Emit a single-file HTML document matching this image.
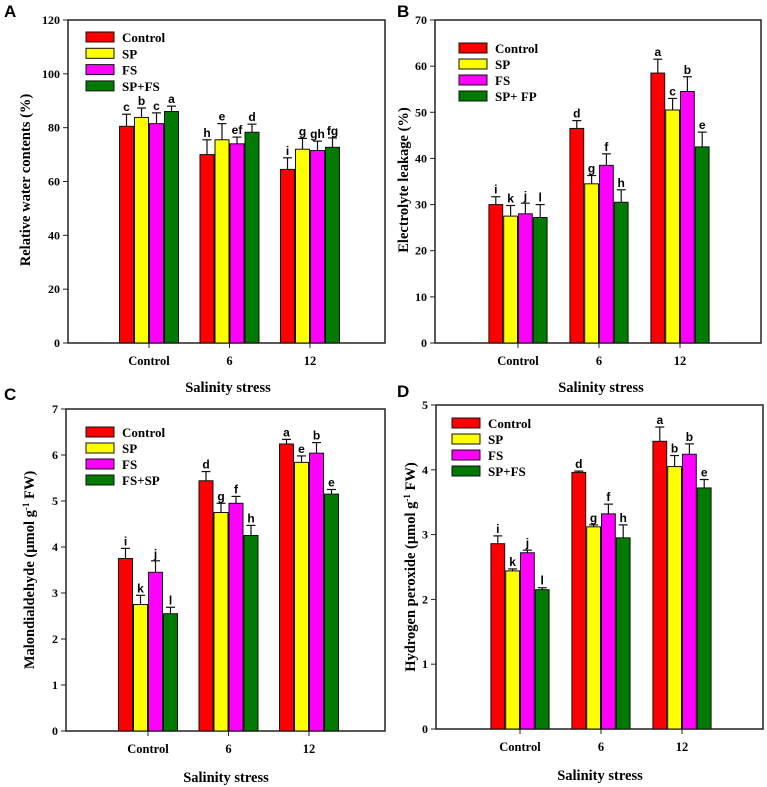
<!DOCTYPE html>
<html><head><meta charset="utf-8"><style>
body{margin:0;background:#fff}
svg{display:block}
text{font-family:"Liberation Serif",serif;font-weight:bold;fill:#000}
.let{font-family:"Liberation Sans",sans-serif;font-size:12px}
</style></head><body>
<svg id="fig" width="767" height="787" viewBox="0 0 767 787" xmlns="http://www.w3.org/2000/svg"></svg>
<script>
const categories = ["Control","6","12"];
const colors = ["#ff0000","#ffff00","#ff00ff","#007a00"];
// Panel A: Relative water contents
const aSeriesNames = ["Control","SP","FS","SP+FS"];
const aValues = [[80.5,70,64.5],[83.8,75.5,72],[81.5,74,71.5],[86,78.3,72.7]];
const aErrors = [[4.5,5.5,4.3],[3.5,6,4],[4,2.5,3.5],[2,3,3.5]];
const aLetters = [["c","h","i"],["b","e","g"],["c","ef","gh"],["a","d","fg"]];
const aTicks = [0,20,40,60,80,100,120];
// Panel B: Electrolyte leakage
const bSeriesNames = ["Control","SP","FS","SP+ FP"];
const bValues = [[30,46.5,58.5],[27.5,34.5,50.5],[28,38.5,54.5],[27.2,30.5,42.5]];
const bErrors = [[1.7,1.7,3],[2.3,1.8,2.5],[2.3,2.5,3.2],[2.8,2.7,3.2]];
const bLetters = [["i","d","a"],["k","g","c"],["j","f","b"],["l","h","e"]];
const bTicks = [0,10,20,30,40,50,60,70];
// Panel C: Malondialdehyde
const cSeriesNames = ["Control","SP","FS","FS+SP"];
const cValues = [[3.75,5.44,6.24],[2.75,4.75,5.84],[3.45,4.95,6.04],[2.55,4.25,5.15]];
const cErrors = [[0.22,0.2,0.1],[0.2,0.2,0.14],[0.25,0.15,0.23],[0.14,0.22,0.1]];
const cLetters = [["i","d","a"],["k","g","e"],["j","f","b"],["l","h","e"]];
const cTicks = [0,1,2,3,4,5,6,7];
// Panel D: Hydrogen peroxide
const dSeriesNames = ["Control","SP","FS","SP+FS"];
const dValues = [[2.86,3.96,4.44],[2.44,3.12,4.05],[2.72,3.32,4.24],[2.15,2.95,3.72]];
const dErrors = [[0.12,0.02,0.22],[0.03,0.03,0.17],[0.04,0.15,0.16],[0.03,0.2,0.13]];
const dLetters = [["i","d","a"],["k","g","b"],["j","f","b"],["l","h","e"]];
const dTicks = [0,1,2,3,4,5];

const NS="http://www.w3.org/2000/svg";
const svg=document.getElementById('fig');
function mk(tag,attrs,parent,txt){const e=document.createElementNS(NS,tag);for(const k in attrs)e.setAttribute(k,attrs[k]);if(txt!==undefined)e.textContent=txt;(parent||svg).appendChild(e);return e;}

function panel(p){
  const g=mk('g',{});
  
  
  const ymax=p.ticks[p.ticks.length-1];
  const y=v=>p.bottom-(v/ymax)*(p.bottom-p.top);
  const x=i=>p.cx0+i*p.step;
  const fr=mk('rect',{x:p.left,y:p.top,width:p.right-p.left,height:p.bottom-p.top,fill:'none',stroke:'#222','stroke-width':1.5},g);
  
  
  const pl=mk('text',{x:p.lx,y:p.ly,'font-size':17,style:'font-family:"Liberation Sans",sans-serif'},g,p.id);
  
  
  p.ticks.forEach(t=>{
    mk('line',{x1:p.left-5,x2:p.left,y1:y(t),y2:y(t),stroke:'#222'},g);
    const tl=mk('text',{x:p.left-8,y:y(t)+4,'font-size':12,'text-anchor':'end'},g,t);
    
    
  });
  categories.forEach((c,i)=>{
    mk('line',{x1:x(i),x2:x(i),y1:p.bottom,y2:p.bottom+5,stroke:'#222'},g);
    const cl=mk('text',{x:x(i),y:p.bottom+22,'font-size':12.5,'text-anchor':'middle'},g,c);
    
    
  });
  const bw=p.bw;
  p.values.forEach((ser,s)=>{
    ser.forEach((v,i)=>{
      const bx=x(i)-2*bw+s*bw;
      const r=mk('rect',{x:bx+0.5,y:y(v),width:bw-1,height:p.bottom-y(v),fill:colors[s],stroke:'#111','stroke-width':1},g);
      
      
      const cx=bx+bw/2, ye=y(v+p.errors[s][i]);
      mk('line',{x1:cx,x2:cx,y1:y(v),y2:ye,stroke:'#111','stroke-width':1.2},g);
      mk('line',{x1:cx-4.5,x2:cx+4.5,y1:ye,y2:ye,stroke:'#111','stroke-width':1.2},g);
      const lt=mk('text',{x:cx,y:ye-3,'text-anchor':'middle',class:'let'},g,p.letters[s][i]);
      
      
    });
  });
  p.names.forEach((n,s)=>{
    const ry=p.legY+s*p.legStep;
    const sw=mk('rect',{x:p.legX,y:ry-5,width:28,height:10,fill:colors[s],stroke:'#111'},g);
    
    
    const lt=mk('text',{x:p.legX+36,y:ry+5,'font-size':13},g,n);
    
    
  });
  const xt=mk('text',{x:p.xtX,y:p.xtY,'font-size':14.5,'text-anchor':'middle'},g,'Salinity stress');
  
  
  const yt=mk('text',{x:0,y:0,'font-size':14.5,'text-anchor':'middle',transform:`translate(${p.ytX},${p.ytY}) rotate(-90)`},g);
  
  
  yt.innerHTML=p.ytitle;
}

panel({id:'A',left:68,right:385,top:20,bottom:343,cx0:149,step:80.5,bw:15,ticks:aTicks,values:aValues,errors:aErrors,letters:aLetters,names:aSeriesNames,
  legX:86,legY:37,legStep:16.3,xtX:228,xtY:392,ytX:30,ytY:180,lx:4,ly:17,ytitle:'Relative water contents (%)'});
panel({id:'B',left:435,right:761,top:20,bottom:343,cx0:518,step:81,bw:14.8,ticks:bTicks,values:bValues,errors:bErrors,letters:bLetters,names:bSeriesNames,
  legX:459,legY:48,legStep:16,xtX:601,xtY:392,ytX:408,ytY:180,lx:397,ly:17,ytitle:'Electrolyte leakage (%)'});
panel({id:'C',left:66,right:385,top:409,bottom:731,cx0:148,step:80.5,bw:15,ticks:cTicks,values:cValues,errors:cErrors,letters:cLetters,names:cSeriesNames,
  legX:86,legY:432,legStep:16,xtX:226,xtY:782,ytX:34,ytY:570,lx:4,ly:400,ytitle:'Malondialdehyde (µmol g<tspan dy="-5" font-size="9">-1</tspan><tspan dy="5"> FW)</tspan>'});
panel({id:'D',left:436,right:763,top:405,bottom:729,cx0:520,step:81,bw:14.8,ticks:dTicks,values:dValues,errors:dErrors,letters:dLetters,names:dSeriesNames,
  legX:452,legY:423,legStep:16,xtX:600,xtY:780,ytX:415,ytY:567,lx:397,ly:397,ytitle:'Hydrogen peroxide  (µmol g<tspan dy="-5" font-size="9">-1</tspan><tspan dy="5"> FW)</tspan>'});
</script>
</body></html>
